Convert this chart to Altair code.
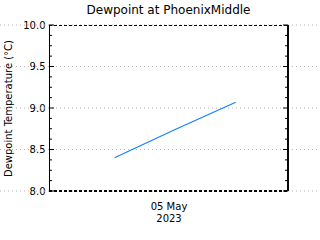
import altair as alt
import pandas as pd

times = ["2023-05-04T18:35:00", "2023-05-05T00:40:00", "2023-05-05T06:45:00"]
dewpoint = [8.40, 8.74, 9.07]
x_domain = ["2023-05-04T12:00:00", "2023-05-05T12:00:00"]
x_tick = ["2023-05-05T00:00:00"]
y_major = [8.0, 8.5, 9.0, 9.5, 10.0]
y_minor = [8.125, 8.25, 8.375, 8.625, 8.75, 8.875, 9.125, 9.25, 9.375, 9.625, 9.75, 9.875]

W, H = 239, 166
FONT = "DejaVu Sans"

df = pd.DataFrame({"time": pd.to_datetime(times), "dew": dewpoint})
major_df = pd.DataFrame({"v": y_major})
minor_df = pd.DataFrame({"v": y_minor})

yscale = alt.Scale(domain=[8.0, 10.0], nice=False, zero=False)
yaxis = alt.Axis(values=y_major, format=".1f", title="Dewpoint Temperature (°C)",
                 domain=True, domainColor="black", ticks=False, grid=False,
                 labelFont=FONT, labelFontSize=10, labelColor="black", labelPadding=4,
                 titleFont=FONT, titleFontSize=10, titleFontWeight="normal",
                 titleColor="black", titlePadding=9)

grid = alt.Chart(major_df).mark_rule(color="#b8b8b8", strokeDash=[1, 3], strokeWidth=1).encode(
    x=alt.value(-49), x2=alt.value(W + 32), y=alt.Y("v:Q", scale=yscale, axis=yaxis)
)

line = alt.Chart(df).mark_line(color="#1580ff", strokeWidth=1.2).encode(
    x=alt.X("time:T", scale=alt.Scale(domain=x_domain, type="utc"),
            axis=alt.Axis(values=x_tick, format="%d %b", formatType="time", title="2023",
                          domain=False, ticks=False, grid=False, labelFont=FONT, labelFontSize=10,
                          labelColor="black", labelPadding=10, titleFont=FONT, titleFontSize=10,
                          titleFontWeight="normal", titleColor="black", titlePadding=2)),
    y=alt.Y("dew:Q", scale=yscale, axis=yaxis),
)

top = alt.Chart(major_df).mark_rule(color="black", strokeDash=[3, 2]).encode(
    x=alt.value(0), x2=alt.value(W), y=alt.value(0.5)
)
bottom = alt.Chart(major_df).mark_rule(color="black", strokeDash=[3, 2]).encode(
    x=alt.value(0), x2=alt.value(W), y=alt.value(H)
)
right = alt.Chart(major_df).mark_rule(color="black").encode(
    x=alt.value(W), y=alt.value(0), y2=alt.value(H)
)

tick_major_l = alt.Chart(major_df).mark_rule(color="black").encode(
    x=alt.value(0), x2=alt.value(5), y=alt.Y("v:Q", scale=yscale, axis=yaxis)
)
tick_major_r = alt.Chart(major_df).mark_rule(color="black").encode(
    x=alt.value(W - 5), x2=alt.value(W), y=alt.Y("v:Q", scale=yscale, axis=yaxis)
)
tick_minor_l = alt.Chart(minor_df).mark_rule(color="black").encode(
    x=alt.value(0), x2=alt.value(3), y=alt.Y("v:Q", scale=yscale, axis=yaxis)
)
tick_minor_r = alt.Chart(minor_df).mark_rule(color="black").encode(
    x=alt.value(W - 3), x2=alt.value(W), y=alt.Y("v:Q", scale=yscale, axis=yaxis)
)

chart = alt.layer(
    grid, line, top, bottom, right, tick_major_l, tick_major_r, tick_minor_l, tick_minor_r
).resolve_axis(y="shared").properties(
    width=W, height=H,
    title=alt.TitleParams("Dewpoint at PhoenixMiddle", font=FONT, fontSize=12,
                          fontWeight="normal", color="black", offset=3, anchor="middle"),
    autosize=alt.AutoSizeParams(type="none"),
    padding={"left": 49, "top": 25, "right": 32, "bottom": 49},
    background="white",
).configure_view(stroke=None)

chart.save("out.html", embed_options={"renderer": "svg", "actions": False})
